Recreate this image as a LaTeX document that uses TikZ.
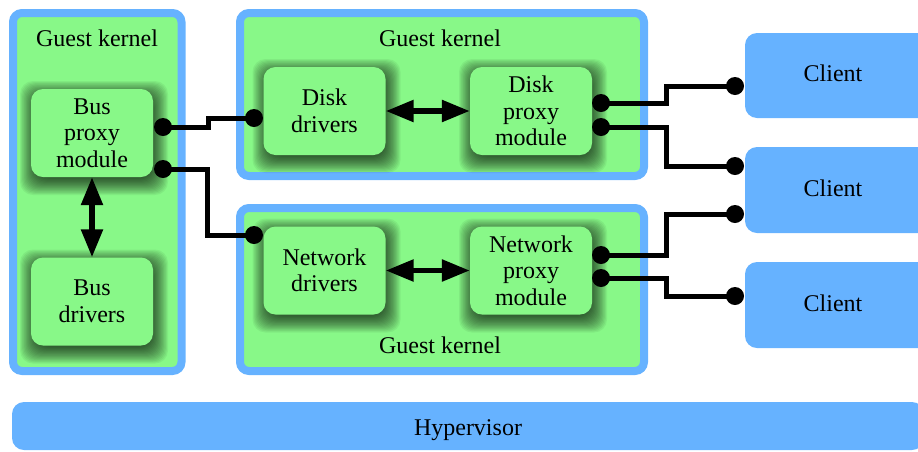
\documentclass[tikz,border=0pt]{standalone}
\usepackage{fontspec}
\setmainfont{Liberation Serif}
\usetikzlibrary{arrows.meta}
\definecolor{kgreen}{RGB}{136,248,136}
\definecolor{kblue}{RGB}{102,178,255}
\newcommand\softshadowat[2]{%
  \foreach \k in {0,...,17}{%
    \pgfmathsetmacro\ee{13-\k*1.1}%
    \fill[black,opacity=0.055,rounded corners=13pt]
      ({#1-61-\ee+2},{#2-44-\ee+5}) rectangle ({#1+61+\ee+2},{#2+44+\ee+5});
  }}
\begin{document}
\begin{tikzpicture}[x=1pt,y=-1pt,
  txt/.style={font=\fontsize{24}{26.5}\selectfont,align=center,inner sep=0pt},
  kernel/.style={draw=kblue,line width=8pt,fill=kgreen,rounded corners=9pt,inner sep=0pt},
  module/.style={txt,fill=kgreen,rounded corners=12pt,minimum width=122pt,minimum height=88pt},
  bluebox/.style={fill=kblue,rounded corners=12pt,inner sep=0pt},
  wire/.style={line width=5pt,black},
  dot/.style={fill=black},
  dbl/.style={line width=5.5pt,{Triangle[length=28pt,width=21pt]}-{Triangle[length=28pt,width=21pt]}}
]
\useasboundingbox (0,0) rectangle (918,451);

% guest kernels
\node[kernel,minimum width=168.5pt,minimum height=358pt] (gk1) at (97.25,192) {};
\node[kernel,minimum width=404pt,minimum height=163pt] (gk2) at (442,94.5) {};
\node[kernel,minimum width=404pt,minimum height=163pt] (gk3) at (442,289.5) {};
\node[txt] (t1) at (97,38) {Guest kernel};
\node[txt] (t2) at (440,38) {Guest kernel};
\node[txt] (t3) at (440,345) {Guest kernel};

% shadows of the modules
\softshadowat{92}{133}
\softshadowat{92}{301.5}
\softshadowat{324.5}{111}
\softshadowat{531}{111}
\softshadowat{324.5}{270.5}
\softshadowat{531}{270.5}

% modules
\node[module] (bpm) at (92,133) {Bus\\proxy\\module};
\node[module] (bd) at (92,301.5) {Bus\\drivers};
\node[module] (dd) at (324.5,111) {Disk\\drivers};
\node[module] (dpm) at (531,111) {Disk\\proxy\\module};
\node[module] (nd) at (324.5,270.5) {Network\\drivers};
\node[module] (npm) at (531,270.5) {Network\\proxy\\module};

% clients and hypervisor
\node[bluebox,minimum width=190pt,minimum height=85pt,
  label={[txt,xshift=-7pt,yshift=2pt]center:Client}] (c1) at (840,75.5) {};
\node[bluebox,minimum width=190pt,minimum height=86pt,
  label={[txt,xshift=-7pt,yshift=2pt]center:Client}] (c2) at (840,190) {};
\node[bluebox,minimum width=190pt,minimum height=86pt,
  label={[txt,xshift=-7pt,yshift=2pt]center:Client}] (c3) at (840,305) {};
\node[bluebox,minimum width=912pt,minimum height=48pt] (hv) at (468,426) {};
\node[txt,anchor=base] (hvt) at (468,435) {Hypervisor};

% arrows
\draw[dbl] (bpm.south) -- (bd.north);
\draw[dbl] (dd.east) -- (dpm.west);
\draw[dbl] (nd.east) -- (npm.west);

% connector end points
\coordinate (bp1) at (163,127);
\coordinate (bp2) at (163,169);
\coordinate (dd1) at (254,118);
\coordinate (nd1) at (254,235);
\coordinate (dp1) at (601,103);
\coordinate (dp2) at (601,127);
\coordinate (np1) at (601,255);
\coordinate (np2) at (601,278);
\coordinate (cl1) at (735,86);
\coordinate (cl2) at (735,166);
\coordinate (cl3) at (735,214);
\coordinate (cl4) at (735,296);
\coordinate (ja) at (208,0);
\coordinate (jb) at (207,0);
\coordinate (jc) at (666,0);

\draw[wire] (bp1) -| (ja |- dd1) -- (dd1);
\draw[wire] (bp2) -| (jb |- nd1) -- (nd1);
\draw[wire] (dp1) -| (jc |- cl1) -- (cl1);
\draw[wire] (dp2) -| (jc |- cl2) -- (cl2);
\draw[wire] (np1) -| (jc |- cl3) -- (cl3);
\draw[wire] (np2) -| (jc |- cl4) -- (cl4);

\foreach \p in {bp1,bp2,dd1,nd1,dp1,dp2,np1,np2,cl1,cl2,cl3,cl4}
  \fill[dot] (\p) circle (9pt);
\end{tikzpicture}
\end{document}
